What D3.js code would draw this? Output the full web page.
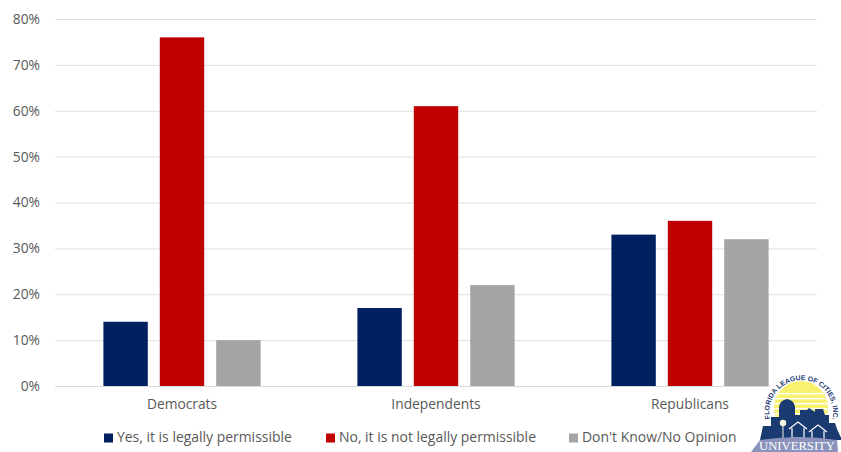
<!DOCTYPE html>
<html>
<head>
<meta charset="utf-8">
<script src="https://cdn.jsdelivr.net/npm/d3@7"></script>
<style>
  html, body { margin: 0; padding: 0; background: #fff; }
  text { font-family: "Open Sans", sans-serif; fill: #595959; }
</style>
</head>
<body>
<div id="chart"></div>
<script>
var categories = ["Democrats", "Independents", "Republicans"];
var seriesNames = ["Yes, it is legally permissible", "No, it is not legally permissible", "Don't Know/No Opinion"];
var yesValues = [14, 17, 33];
var noValues = [76, 61, 36];
var dontKnowValues = [10, 22, 32];
var yTicks = [0, 10, 20, 30, 40, 50, 60, 70, 80];
var colors = ["#002060", "#c00000", "#a5a5a5"];

var width = 841, height = 452;
var margin = {top: 19, right: 24, bottom: 66, left: 55};
var plotW = width - margin.left - margin.right;
var plotH = height - margin.top - margin.bottom;
var fontSize = "13.8px";

var svg = d3.select("#chart").append("svg")
  .attr("width", width)
  .attr("height", height)
  .style("display", "block");

var g = svg.append("g")
  .attr("transform", "translate(" + margin.left + "," + margin.top + ")");

var x = d3.scaleBand().domain(categories).range([0, plotW]);
var x1 = d3.scaleBand().domain(seriesNames).range([0, x.bandwidth()])
  .paddingInner(0.213).paddingOuter(0.858);
var y = d3.scaleLinear().domain([0, 80]).range([plotH, 0]);

// gridlines + y labels
var yAxis = g.append("g")
  .call(d3.axisLeft(y).tickValues(yTicks).tickSize(-plotW).tickFormat(function(d) { return d + "%"; }));
yAxis.select(".domain").remove();
yAxis.selectAll("line").attr("stroke", "#e0e0e0").attr("stroke-width", 1);
yAxis.selectAll("text")
  .attr("x", -15)
  .style("font-size", fontSize)
  .style("font-family", "'Open Sans', sans-serif")
  .attr("fill", "#595959");

// bars
var allValues = [yesValues, noValues, dontKnowValues];
seriesNames.forEach(function(name, s) {
  g.selectAll("rect.s" + s)
    .data(allValues[s])
    .enter()
    .append("rect")
      .attr("class", "s" + s)
      .attr("x", function(d, i) { return x(categories[i]) + x1(name); })
      .attr("y", function(d) { return y(d); })
      .attr("width", x1.bandwidth())
      .attr("height", function(d) { return y(0) - y(d); })
      .attr("fill", colors[s]);
});

// x axis
var xAxis = g.append("g")
  .attr("transform", "translate(0," + plotH + ")")
  .call(d3.axisBottom(x).tickSize(0));
xAxis.select(".domain").attr("stroke", "#d9d9d9");
xAxis.selectAll("text")
  .attr("y", 13)
  .style("font-size", fontSize)
  .style("font-family", "'Open Sans', sans-serif")
  .attr("fill", "#595959");

// legend
var legendX = [104, 326, 569];
seriesNames.forEach(function(name, s) {
  svg.append("rect")
    .attr("x", legendX[s]).attr("y", 433.5)
    .attr("width", 9).attr("height", 9)
    .attr("fill", colors[s]);
  svg.append("text")
    .attr("x", legendX[s] + 13).attr("y", 442)
    .style("font-size", "13.95px")
    .text(name);
});

// logo, bottom right corner
svg.append("rect").attr("x", 770).attr("y", 372).attr("width", 71).attr("height", 60).attr("fill", "#fff");
var logo = svg.append("g").attr("transform", "translate(801,409)");
var navy = "#1a3a72";

logo.append("clipPath").attr("id", "sunClip").append("circle").attr("r", 27).attr("cy", -1);
var sun = logo.append("g").attr("clip-path", "url(#sunClip)");
sun.append("rect").attr("x", -30).attr("y", -30).attr("width", 60).attr("height", 40).attr("fill", "#f8f26e");
[-16, -11, -6, -1, 4].forEach(function(d) {
  sun.append("rect").attr("x", -30).attr("y", d).attr("width", 60).attr("height", 1.4).attr("fill", "#fff");
});

// skyline
logo.append("path")
  .attr("fill", navy)
  .attr("d", "M-41,31 L-38,17 L-30,17 L-30,8 L-22,8 L-22,-2 Q-21,-9 -14,-10 Q-7,-9 -6,-2 L-6,6 L-1,6 L-1,1 L6,1 L8,-1 L14,3 L14,0 L22,0 L24,6 L28,6 L28,14 L34,14 L36,20 L41,31 Z");

// houses + palm
[[-3, 14], [17, 17]].forEach(function(h) {
  logo.append("path")
    .attr("fill", "none").attr("stroke", "#fff").attr("stroke-width", 1.2)
    .attr("d", "M" + (h[0] - 9) + "," + (h[1] + 6) + " L" + h[0] + "," + (h[1] - 1) + " L" + (h[0] + 9) + "," + (h[1] + 6) +
      " M" + (h[0] - 6) + "," + (h[1] + 5) + " V" + (h[1] + 15) + " H" + (h[0] + 6) + " V" + (h[1] + 5));
});
logo.append("circle").attr("cx", -18).attr("cy", 14).attr("r", 3.2).attr("fill", "#f4f4e0");
logo.append("line").attr("x1", -18).attr("y1", 15).attr("x2", -18).attr("y2", 30)
  .attr("stroke", "#f4f4e0").attr("stroke-width", 1);

// ribbon
logo.append("path").attr("fill", "#8b93bd")
  .attr("d", "M-50,43 L-41,31 Q-3,25 36,31 L37,43 Z");
logo.append("text")
  .attr("x", -4).attr("y", 41)
  .attr("text-anchor", "middle")
  .attr("textLength", 76)
  .attr("lengthAdjust", "spacingAndGlyphs")
  .style("font-family", "'Liberation Serif', serif")
  .style("font-size", "12px")
  .style("fill", "#fff")
  .text("UNIVERSITY");

// curved name around the sun
logo.append("defs").append("path")
  .attr("id", "logoArc")
  .attr("d", "M-31,10 A32,32 0 1 1 31,12");
logo.append("text")
  .style("font-family", "'Liberation Sans', sans-serif")
  .style("font-size", "6.9px")
  .style("font-weight", "bold")
  .style("fill", navy)
  .append("textPath")
    .attr("href", "#logoArc")
    .text("FLORIDA LEAGUE OF CITIES, INC.");
</script>
</body>
</html>
